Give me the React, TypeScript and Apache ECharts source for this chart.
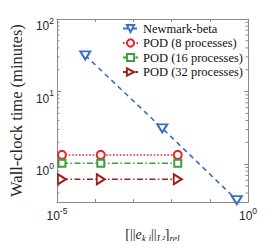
import React, { useEffect, useRef } from 'react';
import * as echarts from 'echarts';

const seriesNames = ['Newmark-beta', 'POD (8 processes)', 'POD (16 processes)', 'POD (32 processes)'];
const newmarkX = [5.5e-5, 5.7e-3, 0.51];
const newmarkY = [31.5, 3.12, 0.32];
const podX = [1.35e-5, 1.4e-4, 1.45e-2];
const pod8Y = [1.34, 1.34, 1.34];
const pod16Y = [1.03, 1.03, 1.03];
const pod32Y = [0.62, 0.62, 0.62];
const xLabeledExponents = [-5, 0];
const yMinorTicks = [0.4, 0.5, 0.6, 0.7, 0.8, 0.9, 2, 3, 4, 5, 6, 7, 8, 9, 20, 30, 40, 50, 60, 70, 80, 90];
const xMin = 1e-5;
const xMax = 1;
const yMin = 0.3;
const yMax = 100;

const AXIS = '#8a8a8a';
const TXT = '#262626';
const SERIF = "'Liberation Serif', 'Times New Roman', serif";
const SANS = "'Liberation Sans', Arial, sans-serif";

const pow10 = (v: number, allowed?: number[]) => {
  const e = Math.log10(v);
  const r = Math.round(e);
  if (Math.abs(e - r) > 1e-6) return '';
  if (allowed && allowed.indexOf(r) < 0) return '';
  return `{b|10}{s|${r}}`;
};

const rich = {
  b: { fontSize: 12, fontFamily: SANS, color: TXT, padding: [4, 0, 0, 0], verticalAlign: 'bottom' },
  s: { fontSize: 8.5, fontFamily: SANS, color: TXT, verticalAlign: 'top' },
};

const zip = (xs: number[], ys: number[]) => xs.map((x, i) => [x, ys[i]]);

export default function App() {
  const ref = useRef<HTMLDivElement>(null);
  useEffect(() => {
    if (!ref.current) return;
    const chart = echarts.init(ref.current, null, { renderer: 'svg' });
    const blue = '#3b6fc2';
    const red = '#e3272e';
    const green = '#3f9c3f';
    const dred = '#a02020';
    const mk = (name: string, data: number[][], color: string, symbol: string, rot: number, size: any, dash: any) => ({
      name,
      type: 'line',
      data,
      symbol,
      symbolRotate: rot,
      symbolSize: size,
      lineStyle: { color, width: 1.6, type: dash },
      itemStyle: { color, borderColor: color, borderWidth: 1.4 },
      z: 5,
    });
    chart.setOption({
      animation: false,
      grid: { left: 43, right: 26, top: 19, bottom: 39 },
      legend: {
        data: seriesNames,
        orient: 'vertical',
        left: 122,
        top: 22,
        padding: 0,
        itemWidth: 15,
        itemHeight: 9,
        itemGap: 1.5,
        textStyle: { fontFamily: SERIF, fontSize: 12.5, color: '#111', lineHeight: 12 },
      },
      xAxis: [
        {
          type: 'log', min: xMin, max: xMax, logBase: 10,
          axisLine: { lineStyle: { color: AXIS, width: 1 } },
          axisTick: { inside: true, length: 3, lineStyle: { color: AXIS } },
          splitLine: { show: false },
          axisLabel: { formatter: (v: number) => pow10(v, xLabeledExponents), rich, margin: 4 },
          name: '{n|[||}{i|e}{sb|k,i}{n|||}{sb|L²}{n|]}{sb|rel}',
          nameLocation: 'middle',
          nameGap: 10,
          nameTextStyle: {
            rich: {
              n: { fontFamily: SERIF, fontSize: 14, color: TXT, verticalAlign: 'bottom', padding: [0, 0, 3, 0] },
              i: { fontFamily: SERIF, fontStyle: 'italic', fontSize: 14, color: TXT, verticalAlign: 'bottom', padding: [0, 0, 3, 0] },
              sb: { fontFamily: SERIF, fontStyle: 'italic', fontSize: 9.5, color: TXT, verticalAlign: 'bottom' },
            },
          },
        },
        {
          type: 'log', min: xMin, max: xMax, logBase: 10, position: 'top',
          axisLine: { lineStyle: { color: AXIS, width: 1 } },
          axisTick: { inside: true, length: 3, lineStyle: { color: AXIS } },
          splitLine: { show: false },
          axisLabel: { show: false },
        },
      ],
      yAxis: [
        {
          type: 'log', min: yMin, max: yMax, logBase: 10,
          axisLine: { show: true, lineStyle: { color: AXIS, width: 1 } },
          axisTick: { show: true, inside: true, length: 4, lineStyle: { color: AXIS } },
          splitLine: { show: false },
          axisLabel: { formatter: (v: number) => pow10(v), rich, margin: 3, padding: [10, 0, 0, 0] },
          name: 'Wall-clock time (minutes)',
          nameLocation: 'middle',
          nameGap: 27,
          nameTextStyle: { fontFamily: SERIF, fontSize: 16.5, color: TXT },
        },
        {
          type: 'log', min: yMin, max: yMax, logBase: 10, position: 'right',
          axisLine: { show: true, lineStyle: { color: AXIS, width: 1 } },
          axisTick: { show: true, inside: true, length: 4, lineStyle: { color: AXIS } },
          splitLine: { show: false },
          axisLabel: { show: false },
        },
      ],
      series: [
        {
          type: 'custom',
          silent: true,
          z: 1,
          data: yMinorTicks.map((v) => [xMin, v]),
          encode: { x: 0, y: 1 },
          renderItem: (params: any, api: any) => {
            const p = api.coord([api.value(0), api.value(1)]);
            const cs = params.coordSys;
            const st = { stroke: AXIS, lineWidth: 1 };
            return {
              type: 'group',
              children: [
                { type: 'line', shape: { x1: cs.x, y1: p[1], x2: cs.x + 2.5, y2: p[1] }, style: st },
                { type: 'line', shape: { x1: cs.x + cs.width - 2.5, y1: p[1], x2: cs.x + cs.width, y2: p[1] }, style: st },
              ],
            };
          },
        },
        mk(seriesNames[0], zip(newmarkX, newmarkY), blue, 'emptyTriangle', 180, [10, 8], [5, 4]),
        mk(seriesNames[1], zip(podX, pod8Y), red, 'emptyCircle', 0, 8, [1.6, 1.8]),
        mk(seriesNames[2], zip(podX, pod16Y), green, 'emptyRect', 0, 7, [6, 2.5, 1.5, 2.5]),
        mk(seriesNames[3], zip(podX, pod32Y), dred, 'emptyTriangle', -90, [10, 8], [6, 2.5, 1.5, 2.5]),
      ],
    });
    return () => chart.dispose();
  }, []);
  return <div ref={ref} style={{ width: 274, height: 249, margin: -8 }} />;
}
